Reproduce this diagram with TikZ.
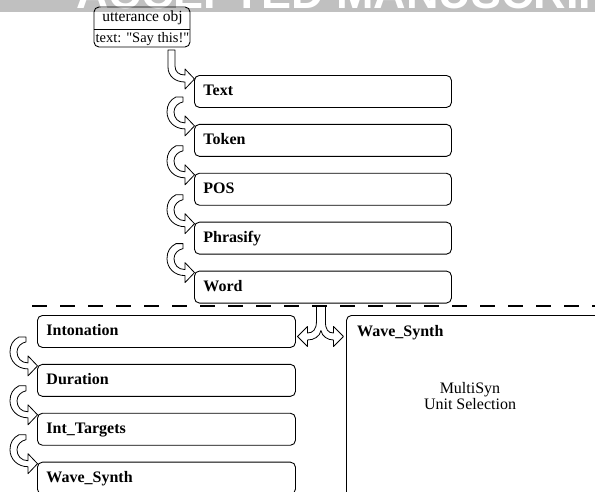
\documentclass[tikz,border=0pt]{standalone}
\usepackage{fontspec}
\setmainfont{Liberation Serif}
\newfontfamily\markfont{Liberation Sans}
\newfontfamily\plainserif{Liberation Serif}[Ligatures=TeXOff]
\usetikzlibrary{positioning}
\definecolor{ggray}{HTML}{C0C0C0}

\tikzset{
  stagebox/.style={draw, rounded corners=5pt, line width=0.9pt, minimum height=32pt,
    text width=239pt, inner xsep=9pt, align=left, text height=11.5pt, text depth=3pt,
    font=\fontsize{16}{19}\selectfont\bfseries},
  uttbox/.style={draw, rounded corners=5pt, line width=0.9pt, minimum width=96pt, minimum height=40pt},
  blockarrow/.style={draw, fill=white, line width=0.8pt, line join=round},
}

% C-shaped block arrow ending at the top left of a box
\newcommand{\stepcurve}[1]{%
  \begin{scope}[shift={(#1.north west)}]
  \draw[blockarrow] (-18,-27) .. controls (-24,-24) and (-27,-19) .. (-27,-12)
    .. controls (-27,-3) and (-20,5) .. (-9,5) -- (-9,12) -- (0.5,2) -- (-9,-8) -- (-9,-1)
    .. controls (-16,-1) and (-20,-6) .. (-20,-12)
    .. controls (-20,-17) and (-16,-21) .. (-11,-22) -- (-11,-27) -- cycle;
  \end{scope}}

\begin{document}
\begin{tikzpicture}[x=1pt, y=-1pt]
\useasboundingbox (0,0) rectangle (595,491);
\clip (0,0) rectangle (595,491);

% watermark
\fill[ggray] (0,0) rectangle (595,12);
\node[anchor=base west, inner sep=0pt, text=white, font=\markfont\bfseries\fontsize{45}{50}\selectfont] (mark) at (76,8.5) {ACCEPTED MANUSCRIPT};

% utterance object
\node[uttbox] (utt) at (142,27) {};
\draw[line width=0.9pt] ([yshift=-2pt]utt.west) -- ([yshift=-2pt]utt.east);
\node[anchor=base, inner sep=0pt, font=\fontsize{15.5}{18}\selectfont] (uttname) at (142.5,21.7) {utterance obj};
\node[anchor=base, inner sep=0pt, font=\plainserif\fontsize{14.5}{18}\selectfont] (utttext) at (142.5,42.3) {text: "Say this!"};

% first stages
\node[stagebox, anchor=north west] (textstage) at (194,75) {Text};
\node[stagebox, below=16pt of textstage] (token) {Token};
\node[stagebox, below=16pt of token] (pos) {POS};
\node[stagebox, below=16pt of pos] (phrasify) {Phrasify};
\node[stagebox, below=16pt of phrasify] (word) {Word};

\draw[line width=2pt, dash pattern=on 14.5pt off 13.5pt] (32,306) -- (595,306);

% left branch
\node[stagebox, text width=240pt, anchor=north west] (inton) at (37,315) {Intonation};
\node[stagebox, text width=240pt, below=16pt of inton] (duration) {Duration};
\node[stagebox, text width=240pt, below=16pt of duration] (targets) {Int\_Targets};
\node[stagebox, text width=240pt, below=16pt of targets] (wavesynth) {Wave\_Synth};

% right branch
\node[draw, rounded corners=5pt, line width=0.9pt, minimum width=300pt, minimum height=250pt, anchor=north west] (synth) at (346,315) {};
\node[anchor=base west, inner sep=0pt, font=\fontsize{16}{19}\selectfont\bfseries] (synthname) at ([xshift=11pt,yshift=-21pt]synth.north west) {Wave\_Synth};
\node[align=center, font=\fontsize{16}{16.6}\selectfont] (synthtext) at (470,396) {MultiSyn\\Unit Selection};

% arrows
\begin{scope}[shift={(textstage.north west)}]
\draw[blockarrow] (-26,-25) -- (-26,-8) .. controls (-26,1) and (-19,7) .. (-9,7)
  -- (-9,14) -- (0.5,4) -- (-9,-6) -- (-9,0)
  .. controls (-15,0) and (-19,-3) .. (-19,-9) -- (-19,-25) -- cycle;
\end{scope}

\foreach \b in {token,pos,phrasify,word,duration,targets,wavesynth}
  \stepcurve{\b};

\begin{scope}[shift={(word.south)}]
\draw[blockarrow] (-6.5,3) -- (-6.5,18) .. controls (-6.5,26) and (-10,29.5) .. (-15.5,29.5)
  -- (-15.5,23) -- (-25.5,33) -- (-15.5,43) -- (-15.5,36.5)
  .. controls (-9,36.5) and (-3,33) .. (-2,27)
  .. controls (-1,33) and (5,36.5) .. (10.5,36.5)
  -- (10.5,43) -- (20.5,33) -- (10.5,23) -- (10.5,29.5)
  .. controls (5,29.5) and (2.5,26) .. (2.5,18) -- (2.5,3) -- cycle;
\end{scope}
\end{tikzpicture}
\end{document}
